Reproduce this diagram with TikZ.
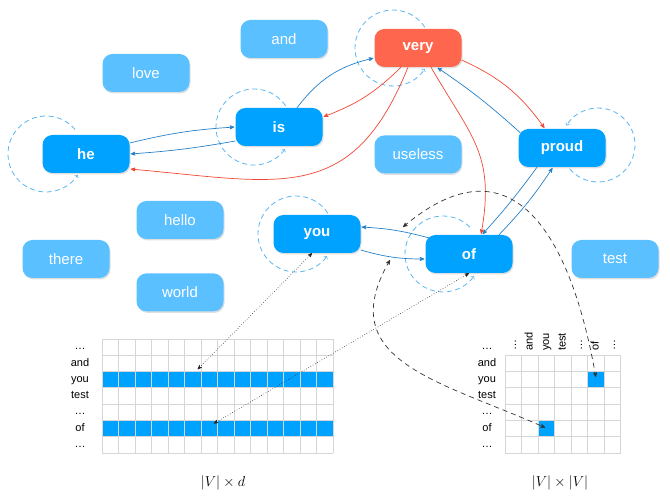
\documentclass[tikz,border=0pt]{standalone}
\usepackage{fontspec}
\setmainfont{Liberation Sans}
\usepackage{amsmath}
\usepackage{tikz}
\usetikzlibrary{arrows,calc,positioning,shadows}

\definecolor{wordblue}{RGB}{0,162,255}
\definecolor{wordlight}{RGB}{90,192,255}
\definecolor{wordred}{RGB}{255,102,78}
\definecolor{edgeblue}{RGB}{38,128,200}
\definecolor{edgered}{RGB}{240,72,52}
\definecolor{loopblue}{RGB}{90,182,240}
\definecolor{cellgrey}{RGB}{214,214,214}

\begin{document}
\begin{tikzpicture}[x=1pt,y=1pt,>=stealth',shorten >=1pt,node distance=34pt,
	word/.style={rectangle,rounded corners=10pt,minimum width=87pt,minimum height=38pt,text=white,font=\fontsize{15}{18}\selectfont,drop shadow={shadow xshift=1pt,shadow yshift=-1.5pt,opacity=0.25}},
	idle/.style={word,fill=wordlight},
	active/.style={word,fill=wordblue,font=\fontsize{15}{18}\selectfont\bfseries},
	focus/.style={active,fill=wordred},
	blueedge/.style={->,draw=edgeblue,line width=0.7pt},
	rededge/.style={->,draw=edgered,line width=0.7pt},
	selfloop/.style={->,>=to,draw=loopblue,line width=0.8pt,dash pattern=on 5pt off 3.5pt},
	lookup/.style={<->,draw=black!85,line width=0.6pt,dotted},
	cooc/.style={<->,draw=black!80,line width=0.7pt,dash pattern=on 5pt off 4pt},
	cellline/.style={draw=cellgrey,line width=0.7pt},
	rowlabel/.style={font=\fontsize{11}{13}\selectfont,text height=8pt,text depth=2.5pt,inner sep=0pt},
	matlabel/.style={font=\fontsize{14}{16}\selectfont}]
		\useasboundingbox (0,0) rectangle (670,498);
		\node[idle] (w_and) at (284,459) {and};
		\node[idle] (w_love) at (146,425) {love};
		\node[focus] (w_very) at (418,450) {very};
		\node[active] (w_is) at (279,371) {is};
		\node[active] (w_he) at (86,344) {he};
		\node[idle] (w_useless) [below=68pt of w_very] {useless};
		\node[active] (w_proud) at (562,350) {proud};
		\node[idle] (w_hello) at (180,278) {hello};
		\node[idle] (w_world) [below=of w_hello] {world};
		\node[idle] (w_there) at (66,239) {there};
		\node[active] (w_you) at (317,264) {you};
		\node[active] (w_of) at (469,244) {of};
		\node[idle] (w_test) at (615,239) {test};

		\draw[selfloop] ([xshift=-40pt]w_he.center) ++(40:38) arc[start angle=40,end angle=328,radius=38];
		\draw[selfloop] ([xshift=-25pt]w_is.center) ++(34:38) arc[start angle=34,end angle=326,radius=38];
		\draw[selfloop] ([xshift=-25pt]w_very.center) ++(33:38) arc[start angle=33,end angle=328,radius=38];
		\draw[selfloop] ([xshift=-21pt]w_you.center) ++(33:38) arc[start angle=33,end angle=326,radius=38];
		\draw[selfloop] ([xshift=-26pt]w_of.center) ++(45:38) arc[start angle=45,end angle=326,radius=38];
		\draw[selfloop] ([xshift=36pt,yshift=3pt]w_proud.center) ++(-140:37) arc[start angle=-140,end angle=150,radius=37];

		\draw[blueedge] ([yshift=11pt]w_he.east) to[bend left=5] (w_is.west);
		\draw[blueedge] ([yshift=-14pt]w_is.west) to[bend left=3] (w_he.east);
		\draw[blueedge] ([xshift=18pt]w_is.north) to[bend left=20] ([yshift=-10pt]w_very.west);
		\draw[blueedge] ([xshift=2pt,yshift=-4pt]w_proud.north west) to[bend right=4] ([xshift=-25pt]w_very.south east);
		\draw[blueedge] ([yshift=-16pt]w_you.east) to[bend right=8] ([yshift=-5pt]w_of.west);
		\draw[blueedge] ([xshift=4pt,yshift=16pt]w_of.west) to[bend right=6] ([yshift=7pt]w_you.east);
		\draw[blueedge] ([xshift=30pt]w_of.north) to[bend right=5] ([xshift=-9pt]w_proud.south);
		\draw[blueedge] ([xshift=-25pt]w_proud.south) to[bend left=3] ([xshift=13pt]w_of.north);

		\draw[rededge] ([yshift=-12pt]w_very.east) to[bend left=15] ([xshift=-17pt]w_proud.north);
		\draw[rededge] ([xshift=-17pt]w_very.south) to[bend left=12] ([yshift=10pt]w_is.east);
		\draw[rededge] ([xshift=-10pt]w_very.south) to[out=-112,in=-5,looseness=1.3] ([yshift=-15pt]w_he.east);
		\draw[rededge] ([xshift=13pt]w_very.south) to[out=-60,in=80,looseness=1.2] ([xshift=12pt]w_of.north);

		\begin{scope}[shift={(102,45)}]
			\foreach \r in {1,4}
				\fill[wordblue] (0,\r*16.3) rectangle (231,\r*16.3+16.3);
			\draw[cellline] (0,0) grid[xstep=16.5,ystep=16.3] (231.1,114.2);
		\end{scope}
		\begin{scope}[shift={(505,45)}]
			\fill[wordblue] (82.5,65.2) rectangle (99,81.5);
			\fill[wordblue] (33,16.3) rectangle (49.5,32.6);
			\draw[cellline] (0,0) grid[xstep=16.5,ystep=16.3] (115.6,97.9);
		\end{scope}

		\foreach \t [count=\i] in {…,and,you,test,…,of,…} {
			\node[rowlabel] (lrow\i) at (80,167.25-16.3*\i) {\t};
			\node[rowlabel] (rrow\i) at (487,167.25-16.3*\i) {\t};
			\node[rowlabel,rotate=90,anchor=west] (rcol\i) at (496.75+16.5*\i,147) {\t};
		}
		\node[matlabel] (lab_emb) at (223,15) {$|V|\times d$};
		\node[matlabel] (lab_cooc) at (560,15) {$|V|\times|V|$};

		\coordinate (r_you) at (197,128);
		\coordinate (r_of) at (213,74);
		\coordinate (c_ofyou) at (596,120);
		\coordinate (c_youof) at (546,70);
		\coordinate (a_top) at (403,271);
		\coordinate (a_bot) at (390,238);
		\draw[lookup] ([xshift=-5pt]w_you.south) -- (r_you);
		\draw[lookup] (w_of.south) -- (r_of);
		\draw[cooc] (a_top) to[out=40,in=100,looseness=1.5] (c_ofyou);
		\draw[cooc] (a_bot) to[out=-120,in=156,looseness=1.3] (c_youof);
	\end{tikzpicture}
\end{document}
